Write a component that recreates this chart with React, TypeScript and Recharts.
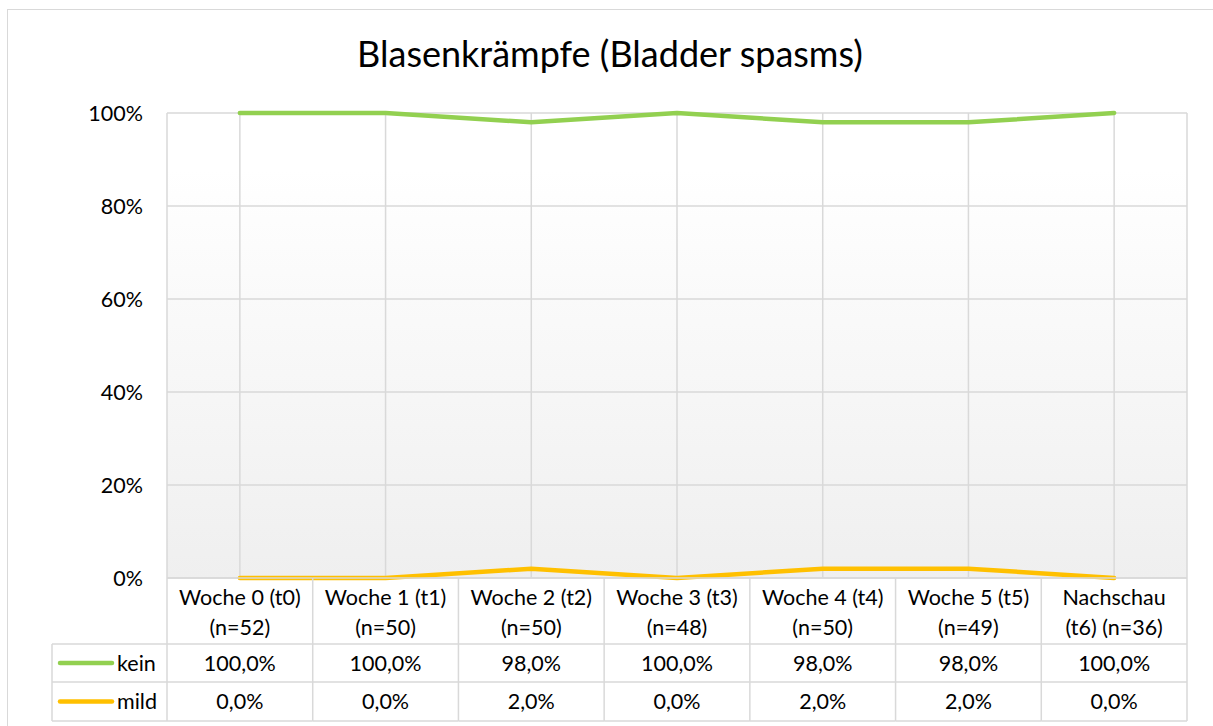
import { LineChart, Line, XAxis, YAxis, CartesianGrid } from "recharts";

const weeks = ["Woche 0 (t0)", "Woche 1 (t1)", "Woche 2 (t2)", "Woche 3 (t3)", "Woche 4 (t4)", "Woche 5 (t5)", "Nachschau"];
const counts = ["(n=52)", "(n=50)", "(n=50)", "(n=48)", "(n=50)", "(n=49)", "(t6) (n=36)"];
const kein = [1, 1, 0.98, 1, 0.98, 0.98, 1];
const mild = [0, 0, 0.02, 0, 0.02, 0.02, 0];
const yTicks = [0, 0.2, 0.4, 0.6, 0.8, 1];

const series = [
  { key: "kein", name: "kein", values: kein, color: "#92d050" },
  { key: "mild", name: "mild", values: mild, color: "#ffc000" },
];

const data = weeks.map((w, i) => ({ week: w, kein: kein[i], mild: mild[i] }));

const W = 1213;
const H = 726;
const FONT = "Lato, 'Open Sans', sans-serif";
const FS = 21.5;
const Y_W = 167;
const RIGHT = 26;
const colW = (W - Y_W - RIGHT) / weeks.length;
const GRID = "#d9d9d9";

const pct = (v: number) => (v * 100).toFixed(1).replace(".", ",") + "%";

function TableTick(props: any) {
  const { x, y, index } = props;
  const l = x - colW / 2;
  const r = x + colW / 2;
  const r1 = y + 66;
  const r2 = r1 + 38;
  const r3 = r2 + 39;
  const txt = { fontFamily: FONT, fontSize: FS, fill: "#000", textAnchor: "middle" as const };
  return (
    <g>
      <line x1={l} x2={r} y1={y} y2={y} stroke={GRID} strokeWidth={1.5} />
      <line x1={l} x2={r} y1={r1} y2={r1} stroke={GRID} strokeWidth={1.5} />
      <line x1={l} x2={r} y1={r2} y2={r2} stroke={GRID} strokeWidth={1.5} />
      <line x1={l} x2={r} y1={r3} y2={r3} stroke={GRID} strokeWidth={1.5} />
      <line x1={l} x2={l} y1={y} y2={r3} stroke={GRID} strokeWidth={1.5} />
      {index === weeks.length - 1 && <line x1={r} x2={r} y1={y} y2={r3} stroke={GRID} strokeWidth={1.5} />}
      <text x={x} y={y + 27} {...txt}>{weeks[index]}</text>
      <text x={x} y={y + 57} {...txt}>{counts[index]}</text>
      <text x={x} y={r1 + 27} {...txt}>{pct(series[0].values[index])}</text>
      <text x={x} y={r2 + 27} {...txt}>{pct(series[1].values[index])}</text>
      {index === 0 && (
        <g>
          <line x1={l - 115} x2={l} y1={r1} y2={r1} stroke={GRID} strokeWidth={1.5} />
          <line x1={l - 115} x2={l} y1={r2} y2={r2} stroke={GRID} strokeWidth={1.5} />
          <line x1={l - 115} x2={l} y1={r3} y2={r3} stroke={GRID} strokeWidth={1.5} />
          <line x1={l - 115} x2={l - 115} y1={r1} y2={r3} stroke={GRID} strokeWidth={1.5} />
          {series.map((s, k) => {
            const cy = k === 0 ? (r1 + r2) / 2 : (r2 + r3) / 2;
            return (
              <g key={s.key}>
                <line x1={l - 107} x2={l - 55} y1={cy} y2={cy} stroke={s.color} strokeWidth={4.5} strokeLinecap="round" />
                <text x={l - 50} y={cy + 7.5} fontFamily={FONT} fontSize={FS} fill="#000">{s.name}</text>
              </g>
            );
          })}
        </g>
      )}
    </g>
  );
}

export default function App() {
  return (
    <div style={{ position: "absolute", left: 0, top: 0, width: W, height: H, overflow: "hidden", background: "#fff" }}>
      <div style={{ position: "absolute", left: 7, top: 9, width: W + 20, height: H + 20, border: "1.5px solid #d9d9d9", boxSizing: "border-box" }} />
      <div
        style={{
          position: "absolute",
          left: 0,
          width: 1220,
          top: 33,
          textAlign: "center",
          fontFamily: FONT,
          fontSize: 36,
          color: "#000",
          lineHeight: "40px",
        }}
      >
        Blasenkrämpfe (Bladder spasms)
      </div>
      <div style={{ position: "absolute", left: 0, top: 0 }}>
        <LineChart width={W} height={H} data={data} margin={{ top: 113, right: RIGHT, left: 0, bottom: 0 }}>
          <defs>
            <linearGradient id="plotBg" x1="0" y1="0" x2="0" y2="1">
              <stop offset="0%" stopColor="#ffffff" />
              <stop offset="12%" stopColor="#ffffff" />
              <stop offset="100%" stopColor="#efefef" />
            </linearGradient>
          </defs>
          <CartesianGrid stroke={GRID} strokeWidth={1.5} fill="url(#plotBg)" />
          <XAxis
            dataKey="week"
            height={148}
            interval={0}
            axisLine={false}
            tickLine={false}
            tickSize={0}
            tickMargin={0}
            padding={{ left: colW / 2, right: colW / 2 }}
            tick={<TableTick />}
          />
          <YAxis
            width={Y_W}
            domain={[0, 1]}
            ticks={yTicks}
            axisLine={false}
            tickLine={false}
            tickSize={0}
            tickMargin={24}
            tickFormatter={(v: number) => `${Math.round(v * 100)}%`}
            tick={{ fontFamily: FONT, fontSize: FS, fill: "#000" }}
          />
          {series.map((s) => (
            <Line
              key={s.key}
              dataKey={s.key}
              name={s.name}
              stroke={s.color}
              strokeWidth={4.5}
              strokeLinejoin="round"
              strokeLinecap="round"
              dot={false}
              activeDot={false}
              isAnimationActive={false}
              type="linear"
            />
          ))}
        </LineChart>
      </div>
    </div>
  );
}
